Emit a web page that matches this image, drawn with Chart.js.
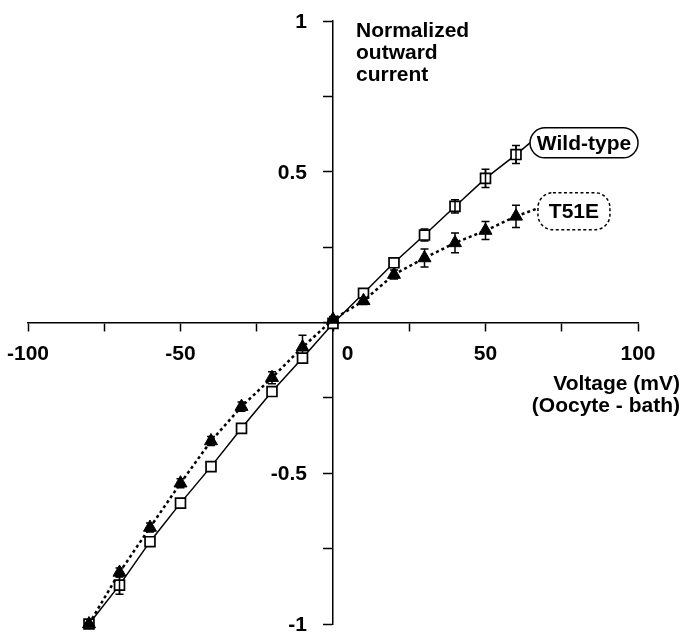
<!DOCTYPE html>
<html><head><meta charset="utf-8">
<script src="https://cdn.jsdelivr.net/npm/chart.js@4"></script>
<style>html,body{margin:0;padding:0;background:#fff;}#wrap{width:682px;height:633px;position:relative;}</style>
</head><body><div id="wrap"><canvas id="c"></canvas></div>
<script>
// ---- data ----
const voltages    = [-80, -70, -60, -50, -40, -30, -20, -10, 0, 10, 20, 30, 40, 50, 60];
const wildType    = [-1.0, -0.871, -0.727, -0.599, -0.478, -0.351, -0.229, -0.118, -0.003, 0.097, 0.198, 0.290, 0.385, 0.478, 0.557];
const wildTypeErr = [0.01, 0.03, 0.012, 0.012, 0.012, 0.012, 0.012, 0.012, 0.008, 0.012, 0.012, 0.02, 0.022, 0.03, 0.03];
const t51e        = [-1.0, -0.829, -0.680, -0.533, -0.393, -0.279, -0.183, -0.082, 0.01, 0.072, 0.159, 0.214, 0.264, 0.305, 0.352];
const t51eErr     = [0.01, 0.015, 0.015, 0.015, 0.015, 0.015, 0.02, 0.04, 0.01, 0.012, 0.015, 0.03, 0.033, 0.03, 0.037];
const xLabeledTicks = [-100, -50, 0, 50, 100];
const yLabeledTicks = [1, 0.5, -0.5, -1];
const seriesNames = ['Wild-type', 'T51E'];
const yTitleLines = ['Normalized', 'outward', 'current'];
const xTitleLines = ['Voltage (mV)', '(Oocyte - bath)'];

// ---- styling / placement ----
const FONT = '"Liberation Sans", Arial, Helvetica, sans-serif';
const labelAnchors = [{x: 82.3, y: 0.596, w: 108, h: 30, dash: []}, {x: 79, y: 0.369, w: 72, h: 37, dash: [3, 2.5]}];

function roundRectPath(ctx, x, y, w, h, r) {
  ctx.beginPath();
  ctx.moveTo(x + r, y);
  ctx.lineTo(x + w - r, y);
  ctx.arc(x + w - r, y + r, r, -Math.PI / 2, 0);
  ctx.lineTo(x + w, y + h - r);
  ctx.arc(x + w - r, y + h - r, r, 0, Math.PI / 2);
  ctx.lineTo(x + r, y + h);
  ctx.arc(x + r, y + h - r, r, Math.PI / 2, Math.PI);
  ctx.lineTo(x, y + r);
  ctx.arc(x + r, y + r, r, Math.PI, 1.5 * Math.PI);
  ctx.closePath();
}

const series = [[wildType, wildTypeErr], [t51e, t51eErr]];

const annot = {
  id: 'annot',
  beforeDatasetsDraw(chart) {
    const {ctx, scales: {x, y}} = chart;
    ctx.save();
    ctx.strokeStyle = '#000';
    ctx.lineWidth = 1.5;
    // error bars
    series.forEach(([vals, errs]) => {
      vals.forEach((v, i) => {
        const px = x.getPixelForValue(voltages[i]);
        const t = y.getPixelForValue(v + errs[i]);
        const b = y.getPixelForValue(v - errs[i]);
        ctx.beginPath();
        ctx.moveTo(px, t); ctx.lineTo(px, b);
        ctx.moveTo(px - 4, t); ctx.lineTo(px + 4, t);
        ctx.moveTo(px - 4, b); ctx.lineTo(px + 4, b);
        ctx.stroke();
      });
    });
    // leader lines to labels
    series.forEach(([vals], k) => {
      const n = vals.length - 1;
      const a = labelAnchors[k];
      const px = x.getPixelForValue(voltages[n]);
      const py = y.getPixelForValue(vals[n]);
      const lx = x.getPixelForValue(a.x) - a.w / 2;
      const ly = y.getPixelForValue(a.y) + (k === 0 ? 0 : -3);
      ctx.beginPath();
      if (k === 1) { ctx.setLineDash([3, 3]); ctx.lineWidth = 2.5; } else { ctx.setLineDash([]); ctx.lineWidth = 1.5; }
      ctx.moveTo(px, py); ctx.lineTo(lx, ly);
      ctx.stroke();
    });
    ctx.restore();
  },
  afterDatasetsDraw(chart) {
    const {ctx, scales: {x, y}} = chart;
    ctx.save();
    ctx.strokeStyle = '#000';
    ctx.lineWidth = 1.5;
    // visible stems through open squares
    wildType.forEach((v, i) => {
      const px = x.getPixelForValue(voltages[i]);
      const t = y.getPixelForValue(v + wildTypeErr[i]);
      const b = y.getPixelForValue(v - wildTypeErr[i]);
      if (b - t > 13) {
        ctx.beginPath(); ctx.moveTo(px, t); ctx.lineTo(px, b); ctx.stroke();
      }
    });
    // label boxes
    ctx.font = 'bold 21px ' + FONT;
    ctx.textAlign = 'center';
    ctx.textBaseline = 'middle';
    seriesNames.forEach((name, k) => {
      const a = labelAnchors[k];
      const cx = x.getPixelForValue(a.x), cy = y.getPixelForValue(a.y);
      roundRectPath(ctx, cx - a.w / 2, cy - a.h / 2, a.w, a.h, 15);
      ctx.fillStyle = '#fff';
      ctx.fill();
      ctx.setLineDash(a.dash);
      ctx.lineWidth = 1.5;
      ctx.stroke();
      ctx.setLineDash([]);
      ctx.fillStyle = '#000';
      ctx.fillText(name, cx, cy + 1);
    });
    ctx.restore();
  },
  afterDraw(chart) {
    const {ctx, scales: {x, y}} = chart;
    ctx.save();
    ctx.fillStyle = '#000';
    ctx.font = 'bold 21px ' + FONT;
    // y tick labels, left of the centred axis
    const axisX = x.getPixelForValue(0);
    ctx.textAlign = 'right';
    ctx.textBaseline = 'middle';
    yLabeledTicks.forEach(v => ctx.fillText(String(v), axisX - 26, y.getPixelForValue(v) + 1));
    // axis titles
    ctx.textBaseline = 'alphabetic';
    ctx.textAlign = 'left';
    yTitleLines.forEach((t, i) => ctx.fillText(t, 356, 37 + i * 22));
    ctx.textAlign = 'right';
    xTitleLines.forEach((t, i) => ctx.fillText(t, 680, 390 + i * 22));
    ctx.restore();
  }
};

const tickFont = {family: FONT, size: 21, weight: 'bold'};

new Chart(document.getElementById('c'), {
  type: 'scatter',
  data: {
    datasets: [
      {
        label: seriesNames[1],
        data: voltages.map((v, i) => ({x: v, y: t51e[i]})),
        showLine: true,
        clip: false,
        borderColor: '#000',
        borderWidth: 2.5,
        borderDash: [3, 3],
        pointStyle: 'triangle',
        pointRadius: 7.5,
        pointBackgroundColor: '#000',
        pointBorderColor: '#000',
        pointBorderWidth: 1,
        tension: 0
      },
      {
        label: seriesNames[0],
        data: voltages.map((v, i) => ({x: v, y: wildType[i]})),
        showLine: true,
        clip: false,
        borderColor: '#000',
        borderWidth: 1.5,
        pointStyle: 'rect',
        pointRadius: 7,
        pointBackgroundColor: '#fff',
        pointBorderColor: '#000',
        pointBorderWidth: 1.7,
        tension: 0
      }
    ]
  },
  options: {
    responsive: true,
    maintainAspectRatio: false,
    animation: false,
    devicePixelRatio: 1,
    layout: {padding: {left: 28, right: 44, top: 21, bottom: 9}},
    plugins: {legend: {display: false}, tooltip: {enabled: false}, title: {display: false}},
    scales: {
      x: {
        type: 'linear', min: -100, max: 100,
        position: {y: 0},
        afterFit: s => { s.height = 0; s.paddingLeft = 0; s.paddingRight = 0; },
        ticks: {
          stepSize: 25, autoSkip: false, maxRotation: 0, padding: 11, color: '#000', font: tickFont,
          callback: v => xLabeledTicks.includes(v) ? (v === 0 ? '     0' : String(v)) : ''
        },
        grid: {drawOnChartArea: false, drawTicks: true, tickLength: 8, tickWidth: 1.5, tickColor: '#000'},
        border: {display: true, color: '#000', width: 1.5}
      },
      y: {
        type: 'linear', min: -1, max: 1,
        position: {x: 0},
        afterFit: s => { s.width = 0; s.paddingTop = 0; s.paddingBottom = 0; },
        ticks: {stepSize: 0.25, autoSkip: false, display: false},
        grid: {drawOnChartArea: false, drawTicks: true, tickLength: 9, tickWidth: 1.5, tickColor: '#000'},
        border: {display: true, color: '#000', width: 1.5}
      }
    }
  },
  plugins: [annot]
});
</script>
</body></html>
